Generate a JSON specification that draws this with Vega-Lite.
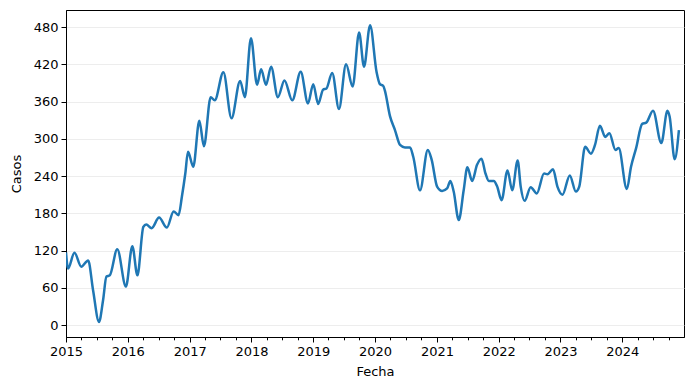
{
  "$schema": "https://vega.github.io/schema/vega-lite/v6.json",
  "autosize": "none",
  "width": 618,
  "height": 327,
  "padding": {"left": 66, "top": 10, "right": 5, "bottom": 53},
  "background": "white",
  "config": {
    "font": "DejaVu Sans",
    "view": {"stroke": "black", "strokeWidth": 1},
    "axis": {
      "domainColor": "black",
      "tickColor": "black",
      "labelColor": "black",
      "titleColor": "black",
      "labelFontSize": 13,
      "titleFontSize": 13,
      "titleFontWeight": "normal",
      "labelFont": "DejaVu Sans",
      "titleFont": "DejaVu Sans"
    }
  },
  "data": {
    "values": [
      {"fecha": "2015-01-01", "casos": 117},
      {"fecha": "2015-01-13", "casos": 91},
      {"fecha": "2015-02-20", "casos": 116.5},
      {"fecha": "2015-04-01", "casos": 94},
      {"fecha": "2015-05-12", "casos": 104},
      {"fecha": "2015-06-10", "casos": 56},
      {"fecha": "2015-07-15", "casos": 5},
      {"fecha": "2015-08-08", "casos": 40},
      {"fecha": "2015-08-28", "casos": 78},
      {"fecha": "2015-09-17", "casos": 80},
      {"fecha": "2015-10-31", "casos": 122},
      {"fecha": "2015-12-21", "casos": 62},
      {"fecha": "2016-01-28", "casos": 127},
      {"fecha": "2016-02-27", "casos": 80},
      {"fecha": "2016-04-02", "casos": 158},
      {"fecha": "2016-04-19", "casos": 162},
      {"fecha": "2016-05-21", "casos": 156},
      {"fecha": "2016-07-04", "casos": 173},
      {"fecha": "2016-08-19", "casos": 157},
      {"fecha": "2016-09-28", "casos": 183},
      {"fecha": "2016-10-27", "casos": 177},
      {"fecha": "2016-11-16", "casos": 207},
      {"fecha": "2016-12-06", "casos": 244},
      {"fecha": "2016-12-22", "casos": 279},
      {"fecha": "2017-01-22", "casos": 255},
      {"fecha": "2017-02-27", "casos": 329},
      {"fecha": "2017-03-26", "casos": 288},
      {"fecha": "2017-05-05", "casos": 367},
      {"fecha": "2017-05-29", "casos": 362},
      {"fecha": "2017-07-19", "casos": 407},
      {"fecha": "2017-09-05", "casos": 333},
      {"fecha": "2017-10-26", "casos": 393},
      {"fecha": "2017-11-23", "casos": 367},
      {"fecha": "2017-12-29", "casos": 462},
      {"fecha": "2018-02-03", "casos": 387},
      {"fecha": "2018-02-27", "casos": 412},
      {"fecha": "2018-03-28", "casos": 387},
      {"fecha": "2018-04-27", "casos": 416},
      {"fecha": "2018-06-06", "casos": 367},
      {"fecha": "2018-07-15", "casos": 394},
      {"fecha": "2018-08-30", "casos": 362},
      {"fecha": "2018-10-19", "casos": 408},
      {"fecha": "2018-12-01", "casos": 357},
      {"fecha": "2019-01-01", "casos": 388},
      {"fecha": "2019-01-30", "casos": 356},
      {"fecha": "2019-02-28", "casos": 379},
      {"fecha": "2019-03-20", "casos": 381},
      {"fecha": "2019-04-23", "casos": 406},
      {"fecha": "2019-06-02", "casos": 348},
      {"fecha": "2019-07-14", "casos": 420},
      {"fecha": "2019-08-22", "casos": 384},
      {"fecha": "2019-09-29", "casos": 471},
      {"fecha": "2019-10-28", "casos": 416},
      {"fecha": "2019-12-03", "casos": 483},
      {"fecha": "2020-01-10", "casos": 408},
      {"fecha": "2020-01-30", "casos": 388},
      {"fecha": "2020-02-19", "casos": 385},
      {"fecha": "2020-02-28", "casos": 378},
      {"fecha": "2020-03-30", "casos": 336},
      {"fecha": "2020-04-28", "casos": 314},
      {"fecha": "2020-05-28", "casos": 290},
      {"fecha": "2020-06-26", "casos": 286},
      {"fecha": "2020-07-26", "casos": 286},
      {"fecha": "2020-08-14", "casos": 271},
      {"fecha": "2020-09-23", "casos": 217},
      {"fecha": "2020-11-08", "casos": 282},
      {"fecha": "2020-12-01", "casos": 266},
      {"fecha": "2021-01-02", "casos": 223},
      {"fecha": "2021-02-01", "casos": 216},
      {"fecha": "2021-03-02", "casos": 220},
      {"fecha": "2021-03-21", "casos": 232},
      {"fecha": "2021-04-10", "casos": 215},
      {"fecha": "2021-05-10", "casos": 169},
      {"fecha": "2021-06-08", "casos": 217},
      {"fecha": "2021-06-30", "casos": 254},
      {"fecha": "2021-07-28", "casos": 232},
      {"fecha": "2021-08-26", "casos": 258},
      {"fecha": "2021-09-21", "casos": 268},
      {"fecha": "2021-10-15", "casos": 244},
      {"fecha": "2021-11-04", "casos": 232},
      {"fecha": "2021-12-03", "casos": 232},
      {"fecha": "2021-12-23", "casos": 223},
      {"fecha": "2022-01-18", "casos": 201},
      {"fecha": "2022-02-22", "casos": 249},
      {"fecha": "2022-03-22", "casos": 217},
      {"fecha": "2022-04-23", "casos": 265},
      {"fecha": "2022-05-11", "casos": 223},
      {"fecha": "2022-06-03", "casos": 200},
      {"fecha": "2022-07-09", "casos": 222},
      {"fecha": "2022-08-14", "casos": 212},
      {"fecha": "2022-09-26", "casos": 244},
      {"fecha": "2022-10-16", "casos": 243},
      {"fecha": "2022-11-18", "casos": 251},
      {"fecha": "2022-12-14", "casos": 223},
      {"fecha": "2023-01-13", "casos": 210},
      {"fecha": "2023-02-25", "casos": 241},
      {"fecha": "2023-04-02", "casos": 215},
      {"fecha": "2023-04-22", "casos": 223},
      {"fecha": "2023-05-27", "casos": 287},
      {"fecha": "2023-06-30", "casos": 276},
      {"fecha": "2023-07-24", "casos": 290},
      {"fecha": "2023-08-22", "casos": 321},
      {"fecha": "2023-09-23", "casos": 303},
      {"fecha": "2023-10-17", "casos": 309},
      {"fecha": "2023-11-22", "casos": 282},
      {"fecha": "2023-12-11", "casos": 285},
      {"fecha": "2024-01-28", "casos": 219},
      {"fecha": "2024-02-22", "casos": 255},
      {"fecha": "2024-03-23", "casos": 285},
      {"fecha": "2024-04-28", "casos": 324},
      {"fecha": "2024-05-22", "casos": 326},
      {"fecha": "2024-07-01", "casos": 345},
      {"fecha": "2024-08-19", "casos": 293},
      {"fecha": "2024-09-24", "casos": 345},
      {"fecha": "2024-10-07", "casos": 336},
      {"fecha": "2024-11-06", "casos": 267},
      {"fecha": "2024-12-01", "casos": 314}
    ]
  },
  "mark": {"type": "line", "interpolate": "monotone", "color": "#1f77b4", "strokeWidth": 2.5, "clip": true},
  "encoding": {
    "x": {
      "field": "fecha",
      "type": "temporal",
      "title": "Fecha",
      "scale": {"domain": [{"year": 2015, "month": 1, "date": 1}, {"year": 2024, "month": 12, "date": 31}], "nice": false},
      "axis": {
        "tickCount": {"interval": "month", "step": 3},
        "labelExpr": "month(datum.value) == 0 && year(datum.value) < 2025 ? timeFormat(datum.value, '%Y') : ''",
        "labelOverlap": false,
        "labelFlush": false,
        "tickSize": {"condition": {"test": "month(datum.value) == 0", "value": 5}, "value": 2.8},
        "labelPadding": 3,
        "titlePadding": 7,
        "grid": false
      }
    },
    "y": {
      "field": "casos",
      "type": "quantitative",
      "title": "Casos",
      "scale": {"domain": [-19.3, 507.4], "nice": false, "zero": false},
      "axis": {
        "values": [0, 60, 120, 180, 240, 300, 360, 420, 480],
        "grid": true,
        "gridColor": "#e8e8e8",
        "gridWidth": 0.8,
        "tickSize": 5,
        "labelPadding": 3,
        "titlePadding": 10
      }
    }
  }
}
